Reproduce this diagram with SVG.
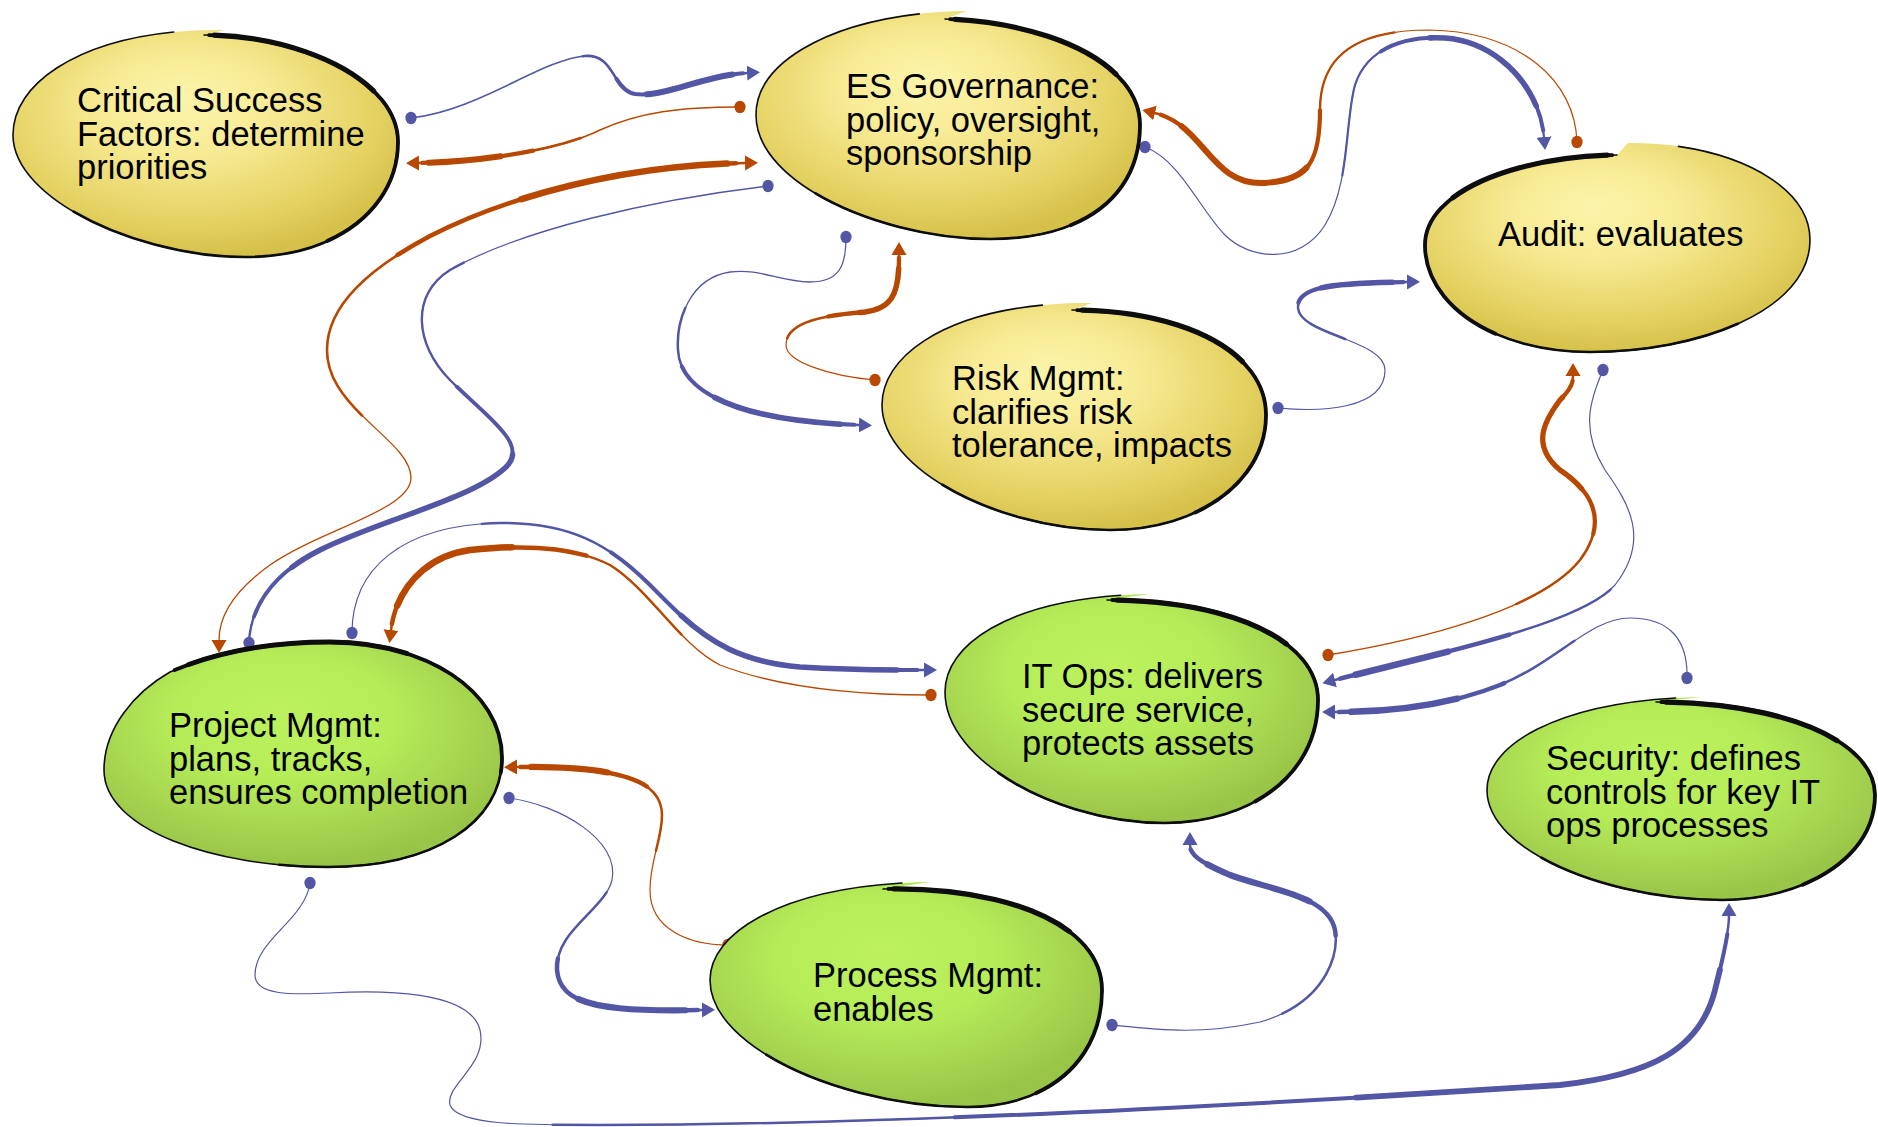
<svg xmlns="http://www.w3.org/2000/svg" xmlns:xlink="http://www.w3.org/1999/xlink" width="1878" height="1127" viewBox="0 0 1878 1127">
<style>
  .bl{stroke:#5356a5}
  .or{stroke:#b84800}
  #connectors{fill:none;stroke-linecap:round;stroke-linejoin:round}
  .ol{fill:none;stroke:#0d0d0d;stroke-linecap:round;stroke-linejoin:round}
  .fy{fill:url(#gy)}
  .fg{fill:url(#gg)}
  text{font-family:"Liberation Sans",Arial,Helvetica,sans-serif;font-size:34.5px;fill:#000}
</style>
<defs>
  <radialGradient id="gy" cx="0.46" cy="0.38" r="0.62" fx="0.44" fy="0.3">
    <stop offset="0" stop-color="#fcf4ab"/>
    <stop offset="0.35" stop-color="#f8eb95"/>
    <stop offset="0.75" stop-color="#e6d466"/>
    <stop offset="1" stop-color="#d5c149"/>
  </radialGradient>
  <radialGradient id="gg" cx="0.46" cy="0.38" r="0.62" fx="0.44" fy="0.3">
    <stop offset="0" stop-color="#bdf25e"/>
    <stop offset="0.45" stop-color="#b5ec58"/>
    <stop offset="0.8" stop-color="#a4d24e"/>
    <stop offset="1" stop-color="#98c447"/>
  </radialGradient>

  <marker id="ab" viewBox="0 -8 14 16" refX="0" refY="0" markerWidth="14" markerHeight="16" markerUnits="userSpaceOnUse" orient="auto-start-reverse">
    <path d="M0,-7.5 L13,0 L0,7.5 Z" fill="#5356a5"/>
  </marker>
  <marker id="ao" viewBox="0 -8 14 16" refX="0" refY="0" markerWidth="14" markerHeight="16" markerUnits="userSpaceOnUse" orient="auto-start-reverse">
    <path d="M0,-7.5 L13,0 L0,7.5 Z" fill="#b84800"/>
  </marker>
  <marker id="db" viewBox="-7 -7 14 14" refX="0" refY="0" markerWidth="14" markerHeight="14" markerUnits="userSpaceOnUse">
    <ellipse rx="5.6" ry="6.2" fill="#5356a5"/>
  </marker>
  <marker id="do" viewBox="-7 -7 14 14" refX="0" refY="0" markerWidth="14" markerHeight="14" markerUnits="userSpaceOnUse">
    <ellipse rx="5.6" ry="6.2" fill="#b84800"/>
  </marker>

  <!-- node outlines: start where the brush stroke begins, end at the lip -->
  <path id="b-csf" pathLength="100" d="M204,35 C300,35 398,80 398,142 C398,205 340,257 245,257 C140,257 13,200 13,135 C13,75 100,28 224,30 Z"/>
  <path id="b-es" pathLength="100" d="M945,19 C1045,22 1140,62 1140,125 C1140,195 1085,239 990,239 C885,239 756,185 756,115 C756,55 850,12 967,11 Z"/>
  <path id="b-audit" pathLength="100" d="M1617,155 C1520,156 1425,190 1425,245 C1425,305 1495,352 1590,352 C1700,352 1810,310 1810,240 C1810,180 1720,142 1628,143 Z"/>
  <path id="b-risk" pathLength="100" d="M1072,310 C1180,310 1266,350 1266,415 C1266,480 1200,530 1110,530 C1000,530 882,470 882,405 C882,350 960,302 1092,303 Z"/>
  <path id="b-itops" pathLength="100" d="M1107,600 C1230,600 1318,640 1318,700 C1318,775 1250,823 1165,823 C1060,823 945,762 945,692 C945,640 1020,596 1150,594 Z"/>
  <path id="b-sec" pathLength="100" d="M1656,702 C1780,702 1875,740 1875,795 C1875,860 1800,900 1722,900 C1610,900 1487,852 1487,790 C1487,740 1570,699 1702,697 Z"/>
  <path id="b-pm" pathLength="100" d="M170,672 C220,650 275,642 330,642 C425,642 502,690 502,758 C502,822 435,867 327,867 C215,867 104,830 104,770 C104,728 135,692 170,672 Z"/>
  <path id="b-proc" pathLength="100" d="M883,889 C1000,886 1102,922 1102,990 C1102,1060 1048,1107 967,1107 C850,1107 710,1050 710,980 C710,930 790,884 930,882 Z"/>

  <!-- connector routes -->
  <path id="p1" pathLength="100" d="M411,118 C480,110 540,60 585,56 C615,54 612,90 635,94 C665,98 700,76 747,73"/>
  <path id="p2" pathLength="100" d="M740,107 C680,107 640,112 600,130 C560,150 480,162 419,163"/>
  <path id="p3" pathLength="100" d="M745,163 C640,165 520,190 430,236 C370,268 327,305 327,350 C327,410 411,440 411,478 C411,510 320,530 270,565 C235,590 219,615 219,640"/>
  <path id="p4" pathLength="100" d="M768,186 C650,200 520,230 450,270 C410,295 415,345 450,380 C490,420 530,445 505,468 C470,500 380,520 320,550 C270,575 250,610 249,643"/>
  <path id="p5" pathLength="100" d="M846,237 C846,265 840,282 810,282 C780,282 760,268 730,272 C690,278 676,320 678,350 C680,400 760,422 859,425"/>
  <path id="p6" pathLength="100" d="M875,380 C830,376 786,362 786,345 C786,320 830,315 865,312 C895,308 899,290 899,255"/>
  <path id="p7" pathLength="100" d="M1577,142 C1575,80 1520,32 1430,30 C1350,30 1320,60 1320,110 C1320,160 1310,180 1265,183 C1210,186 1205,125 1155,113"/>
  <path id="p8" pathLength="100" d="M1145,147 C1180,160 1200,210 1225,235 C1250,260 1300,265 1325,225 C1350,185 1345,120 1355,85 C1368,45 1410,36 1445,38 C1500,42 1540,90 1544,137"/>
  <path id="p9" pathLength="100" d="M1278,408 C1320,412 1385,410 1385,370 C1385,340 1300,335 1298,308 C1296,285 1340,283 1407,282"/>
  <path id="p10" pathLength="100" d="M1328,655 C1420,640 1540,610 1580,560 C1610,520 1590,490 1560,470 C1530,445 1545,420 1560,400 C1570,390 1573,385 1573,376"/>
  <path id="p11" pathLength="100" d="M1603,370 C1590,400 1580,430 1605,470 C1630,505 1650,540 1615,585 C1580,625 1430,655 1335,680"/>
  <path id="p12" pathLength="100" d="M1687,678 C1688,640 1670,618 1630,618 C1590,618 1560,660 1500,685 C1450,705 1390,712 1335,712"/>
  <path id="p13" pathLength="100" d="M352,633 C352,570 400,525 500,523 C570,522 610,545 650,585 C690,625 720,660 800,667 C850,670 890,670 924,670"/>
  <path id="p14" pathLength="100" d="M931,695 C860,695 780,688 720,665 C680,645 650,590 610,565 C570,545 520,545 470,550 C420,557 395,595 391,630"/>
  <path id="p15" pathLength="100" d="M728,945 C690,945 650,930 650,890 C650,860 662,840 662,815 C662,780 620,766 517,767"/>
  <path id="p16" pathLength="100" d="M509,798 C560,805 620,840 612,880 C605,910 555,930 557,970 C560,1005 600,1012 702,1010"/>
  <path id="p17" pathLength="100" d="M1112,1025 C1160,1030 1200,1035 1260,1022 C1320,1005 1340,960 1335,930 C1328,895 1270,890 1230,875 C1200,862 1190,855 1190,845"/>
  <path id="p18" pathLength="100" d="M310,883 C305,920 255,940 255,975 C255,995 290,995 330,993 C380,990 470,990 480,1030 C488,1065 445,1085 450,1105 C458,1125 520,1125 600,1125 C800,1125 1100,1115 1560,1085 C1650,1075 1700,1050 1715,990 C1725,950 1729,930 1729,916"/>
</defs>

<rect width="1878" height="1127" fill="#ffffff"/>

<!-- connectors: a thin full-length stroke plus heavier partial strokes for the brush taper -->
<g id="connectors">
  <g id="c-csf-es" class="bl">
    <use href="#p1" stroke-width="1.6" marker-start="url(#db)" marker-end="url(#ab)"/>
    <use href="#p1" stroke-width="2.6" stroke-dasharray="50 300" stroke-dashoffset="-50"/>
    <use href="#p1" stroke-width="4" stroke-dasharray="37 300" stroke-dashoffset="-62"/>
    <use href="#p1" stroke-width="6" stroke-dasharray="24 300" stroke-dashoffset="-72"/>
  </g>
  <g id="c-es-csf" class="or">
    <use href="#p2" stroke-width="1.5" marker-start="url(#do)" marker-end="url(#ao)"/>
    <use href="#p2" stroke-width="2.6" stroke-dasharray="50 300" stroke-dashoffset="-50"/>
    <use href="#p2" stroke-width="4.2" stroke-dasharray="34 300" stroke-dashoffset="-65"/>
    <use href="#p2" stroke-width="6" stroke-dasharray="22 300" stroke-dashoffset="-75"/>
  </g>
  <g id="c-es-pm" class="or">
    <use href="#p3" stroke-width="1.3" marker-start="url(#ao)" marker-end="url(#ao)"/>
    <use href="#p3" stroke-width="2.6" stroke-dasharray="62 300" stroke-dashoffset="0"/>
    <use href="#p3" stroke-width="4.5" stroke-dasharray="39 300" stroke-dashoffset="-1"/>
    <use href="#p3" stroke-width="6.5" stroke-dasharray="23 300" stroke-dashoffset="-2"/>
  </g>
  <g id="c-pm-es" class="bl">
    <use href="#p4" stroke-width="1.3" marker-start="url(#db)" marker-end="url(#db)"/>
    <use href="#p4" stroke-width="2.4" stroke-dasharray="65 300" stroke-dashoffset="-35"/>
    <use href="#p4" stroke-width="3.8" stroke-dasharray="45 300" stroke-dashoffset="-52"/>
    <use href="#p4" stroke-width="5.4" stroke-dasharray="28 300" stroke-dashoffset="-62"/>
  </g>
  <g id="c-es-risk" class="bl">
    <use href="#p5" stroke-width="1.3" marker-start="url(#db)" marker-end="url(#ab)"/>
    <use href="#p5" stroke-width="2.5" stroke-dasharray="55 300" stroke-dashoffset="-45"/>
    <use href="#p5" stroke-width="4" stroke-dasharray="41 300" stroke-dashoffset="-58"/>
    <use href="#p5" stroke-width="5.6" stroke-dasharray="28 300" stroke-dashoffset="-68"/>
  </g>
  <g id="c-risk-es" class="or">
    <use href="#p6" stroke-width="1.2" marker-start="url(#do)" marker-end="url(#ao)"/>
    <use href="#p6" stroke-width="2.5" stroke-dasharray="60 300" stroke-dashoffset="-40"/>
    <use href="#p6" stroke-width="4.3" stroke-dasharray="41 300" stroke-dashoffset="-58"/>
    <use href="#p6" stroke-width="5.5" stroke-dasharray="25 300" stroke-dashoffset="-70"/>
  </g>
  <g id="c-audit-es" class="or">
    <use href="#p7" stroke-width="1.2" marker-start="url(#do)" marker-end="url(#ao)"/>
    <use href="#p7" stroke-width="2.4" stroke-dasharray="60 300" stroke-dashoffset="-40"/>
    <use href="#p7" stroke-width="4.2" stroke-dasharray="39 300" stroke-dashoffset="-60"/>
    <use href="#p7" stroke-width="6" stroke-dasharray="25 300" stroke-dashoffset="-70"/>
  </g>
  <g id="c-es-audit" class="bl">
    <use href="#p8" stroke-width="1.2" marker-start="url(#db)" marker-end="url(#ab)"/>
    <use href="#p8" stroke-width="2.2" stroke-dasharray="55 300" stroke-dashoffset="-45"/>
    <use href="#p8" stroke-width="4" stroke-dasharray="33 300" stroke-dashoffset="-66"/>
    <use href="#p8" stroke-width="5.6" stroke-dasharray="21 300" stroke-dashoffset="-74"/>
  </g>
  <g id="c-risk-audit" class="bl">
    <use href="#p9" stroke-width="1.2" marker-start="url(#db)" marker-end="url(#ab)"/>
    <use href="#p9" stroke-width="2.5" stroke-dasharray="50 300" stroke-dashoffset="-50"/>
    <use href="#p9" stroke-width="4.3" stroke-dasharray="31 300" stroke-dashoffset="-68"/>
    <use href="#p9" stroke-width="5.5" stroke-dasharray="20 300" stroke-dashoffset="-76"/>
  </g>
  <g id="c-itops-audit" class="or">
    <use href="#p10" stroke-width="1.3" marker-start="url(#do)" marker-end="url(#ao)"/>
    <use href="#p10" stroke-width="2.5" stroke-dasharray="60 300" stroke-dashoffset="-40"/>
    <use href="#p10" stroke-width="4.2" stroke-dasharray="37 300" stroke-dashoffset="-62"/>
    <use href="#p10" stroke-width="5.2" stroke-dasharray="23 300" stroke-dashoffset="-72"/>
  </g>
  <g id="c-audit-itops" class="bl">
    <use href="#p11" stroke-width="1.2" marker-start="url(#db)" marker-end="url(#ab)"/>
    <use href="#p11" stroke-width="2.5" stroke-dasharray="55 300" stroke-dashoffset="-45"/>
    <use href="#p11" stroke-width="4.5" stroke-dasharray="33 300" stroke-dashoffset="-66"/>
    <use href="#p11" stroke-width="6.5" stroke-dasharray="18 300" stroke-dashoffset="-78"/>
  </g>
  <g id="c-sec-itops" class="bl">
    <use href="#p12" stroke-width="1.2" marker-start="url(#db)" marker-end="url(#ab)"/>
    <use href="#p12" stroke-width="2.5" stroke-dasharray="62 300" stroke-dashoffset="-38"/>
    <use href="#p12" stroke-width="4.5" stroke-dasharray="41 300" stroke-dashoffset="-58"/>
    <use href="#p12" stroke-width="6.5" stroke-dasharray="26 300" stroke-dashoffset="-70"/>
  </g>
  <g id="c-pm-itops" class="bl">
    <use href="#p13" stroke-width="1.2" marker-start="url(#db)" marker-end="url(#ab)"/>
    <use href="#p13" stroke-width="2.4" stroke-dasharray="72 300" stroke-dashoffset="-28"/>
    <use href="#p13" stroke-width="4" stroke-dasharray="51 300" stroke-dashoffset="-48"/>
    <use href="#p13" stroke-width="5.6" stroke-dasharray="34 300" stroke-dashoffset="-62"/>
  </g>
  <g id="c-itops-pm" class="or">
    <use href="#p14" stroke-width="1.3" marker-start="url(#do)" marker-end="url(#ao)"/>
    <use href="#p14" stroke-width="2.5" stroke-dasharray="58 300" stroke-dashoffset="-42"/>
    <use href="#p14" stroke-width="4.5" stroke-dasharray="37 300" stroke-dashoffset="-62"/>
    <use href="#p14" stroke-width="6.5" stroke-dasharray="22 300" stroke-dashoffset="-74"/>
  </g>
  <g id="c-proc-pm" class="or">
    <use href="#p15" stroke-width="1.2" marker-start="url(#do)" marker-end="url(#ao)"/>
    <use href="#p15" stroke-width="2.5" stroke-dasharray="58 300" stroke-dashoffset="-42"/>
    <use href="#p15" stroke-width="4.5" stroke-dasharray="37 300" stroke-dashoffset="-62"/>
    <use href="#p15" stroke-width="6.2" stroke-dasharray="22 300" stroke-dashoffset="-74"/>
  </g>
  <g id="c-pm-proc" class="bl">
    <use href="#p16" stroke-width="1.2" marker-start="url(#db)" marker-end="url(#ab)"/>
    <use href="#p16" stroke-width="2.5" stroke-dasharray="62 300" stroke-dashoffset="-38"/>
    <use href="#p16" stroke-width="4.5" stroke-dasharray="41 300" stroke-dashoffset="-58"/>
    <use href="#p16" stroke-width="6.2" stroke-dasharray="26 300" stroke-dashoffset="-70"/>
  </g>
  <g id="c-proc-itops" class="bl">
    <use href="#p17" stroke-width="1.2" marker-start="url(#db)" marker-end="url(#ab)"/>
    <use href="#p17" stroke-width="2.5" stroke-dasharray="62 300" stroke-dashoffset="-38"/>
    <use href="#p17" stroke-width="4.5" stroke-dasharray="39 300" stroke-dashoffset="-60"/>
    <use href="#p17" stroke-width="6.2" stroke-dasharray="24 300" stroke-dashoffset="-70"/>
  </g>
  <g id="c-pm-sec" class="bl">
    <use href="#p18" stroke-width="1.2" marker-start="url(#db)" marker-end="url(#ab)"/>
    <use href="#p18" stroke-width="2.5" stroke-dasharray="70 300" stroke-dashoffset="-30"/>
    <use href="#p18" stroke-width="4" stroke-dasharray="47 300" stroke-dashoffset="-52"/>
    <use href="#p18" stroke-width="5.8" stroke-dasharray="23 300" stroke-dashoffset="-74"/>
  </g>
</g>

<!-- nodes -->
<g id="n-csf">
  <use href="#b-csf" class="fy"/>
  <use href="#b-csf" class="ol" stroke-width="1.6" stroke-dasharray="93 300"/>
  <use href="#b-csf" class="ol" stroke-width="2.6" stroke-dasharray="62 300" stroke-dashoffset="-0.5"/>
  <use href="#b-csf" class="ol" stroke-width="3.8" stroke-dasharray="36 300" stroke-dashoffset="-0.5"/>
  <use href="#b-csf" class="ol" stroke-width="5.2" stroke-dasharray="17 300" stroke-dashoffset="-1"/>
  <text x="77" y="112">Critical Success<tspan x="77" dy="33.5">Factors: determine</tspan><tspan x="77" dy="33.5">priorities</tspan></text>
</g>
<g id="n-es">
  <use href="#b-es" class="fy"/>
  <use href="#b-es" class="ol" stroke-width="1.6" stroke-dasharray="93 300"/>
  <use href="#b-es" class="ol" stroke-width="2.6" stroke-dasharray="62 300" stroke-dashoffset="-0.5"/>
  <use href="#b-es" class="ol" stroke-width="3.8" stroke-dasharray="36 300" stroke-dashoffset="-0.5"/>
  <use href="#b-es" class="ol" stroke-width="5.2" stroke-dasharray="17 300" stroke-dashoffset="-1"/>
  <text x="846" y="98">ES Governance:<tspan x="846" dy="33.5">policy, oversight,</tspan><tspan x="846" dy="33.5">sponsorship</tspan></text>
</g>
<g id="n-audit">
  <use href="#b-audit" class="fy"/>
  <use href="#b-audit" class="ol" stroke-width="1.6" stroke-dasharray="93 300"/>
  <use href="#b-audit" class="ol" stroke-width="2.6" stroke-dasharray="62 300" stroke-dashoffset="-0.5"/>
  <use href="#b-audit" class="ol" stroke-width="3.8" stroke-dasharray="36 300" stroke-dashoffset="-0.5"/>
  <use href="#b-audit" class="ol" stroke-width="5.2" stroke-dasharray="17 300" stroke-dashoffset="-1"/>
  <text x="1498" y="246">Audit: evaluates</text>
</g>
<g id="n-risk">
  <use href="#b-risk" class="fy"/>
  <use href="#b-risk" class="ol" stroke-width="1.6" stroke-dasharray="93 300"/>
  <use href="#b-risk" class="ol" stroke-width="2.6" stroke-dasharray="62 300" stroke-dashoffset="-0.5"/>
  <use href="#b-risk" class="ol" stroke-width="3.8" stroke-dasharray="36 300" stroke-dashoffset="-0.5"/>
  <use href="#b-risk" class="ol" stroke-width="5.2" stroke-dasharray="17 300" stroke-dashoffset="-1"/>
  <text x="952" y="390">Risk Mgmt:<tspan x="952" dy="33.5">clarifies risk</tspan><tspan x="952" dy="33.5">tolerance, impacts</tspan></text>
</g>
<g id="n-itops">
  <use href="#b-itops" class="fg"/>
  <use href="#b-itops" class="ol" stroke-width="1.6" stroke-dasharray="93 300"/>
  <use href="#b-itops" class="ol" stroke-width="2.6" stroke-dasharray="62 300" stroke-dashoffset="-0.5"/>
  <use href="#b-itops" class="ol" stroke-width="3.8" stroke-dasharray="36 300" stroke-dashoffset="-0.5"/>
  <use href="#b-itops" class="ol" stroke-width="5.2" stroke-dasharray="17 300" stroke-dashoffset="-1"/>
  <text x="1022" y="688">IT Ops: delivers<tspan x="1022" dy="33.5">secure service,</tspan><tspan x="1022" dy="33.5">protects assets</tspan></text>
</g>
<g id="n-sec">
  <use href="#b-sec" class="fg"/>
  <use href="#b-sec" class="ol" stroke-width="1.6" stroke-dasharray="93 300"/>
  <use href="#b-sec" class="ol" stroke-width="2.6" stroke-dasharray="62 300" stroke-dashoffset="-0.5"/>
  <use href="#b-sec" class="ol" stroke-width="3.8" stroke-dasharray="36 300" stroke-dashoffset="-0.5"/>
  <use href="#b-sec" class="ol" stroke-width="5.2" stroke-dasharray="17 300" stroke-dashoffset="-1"/>
  <text x="1546" y="770">Security: defines<tspan x="1546" dy="33.5">controls for key IT</tspan><tspan x="1546" dy="33.5">ops processes</tspan></text>
</g>
<g id="n-pm">
  <use href="#b-pm" class="fg"/>
  <use href="#b-pm" class="ol" stroke-width="1.6"/>
  <use href="#b-pm" class="ol" stroke-width="2.6" stroke-dasharray="66 300" stroke-dashoffset="-0.5"/>
  <use href="#b-pm" class="ol" stroke-width="3.8" stroke-dasharray="40 300" stroke-dashoffset="-0.5"/>
  <use href="#b-pm" class="ol" stroke-width="5" stroke-dasharray="22 300" stroke-dashoffset="-2"/>
  <text x="169" y="737">Project Mgmt:<tspan x="169" dy="33.5">plans, tracks,</tspan><tspan x="169" dy="33.5">ensures completion</tspan></text>
</g>
<g id="n-proc">
  <use href="#b-proc" class="fg"/>
  <use href="#b-proc" class="ol" stroke-width="1.6" stroke-dasharray="93 300"/>
  <use href="#b-proc" class="ol" stroke-width="2.6" stroke-dasharray="62 300" stroke-dashoffset="-0.5"/>
  <use href="#b-proc" class="ol" stroke-width="3.8" stroke-dasharray="36 300" stroke-dashoffset="-0.5"/>
  <use href="#b-proc" class="ol" stroke-width="5.2" stroke-dasharray="17 300" stroke-dashoffset="-1"/>
  <text x="813" y="987">Process Mgmt:<tspan x="813" dy="33.5">enables</tspan></text>
</g>
</svg>
